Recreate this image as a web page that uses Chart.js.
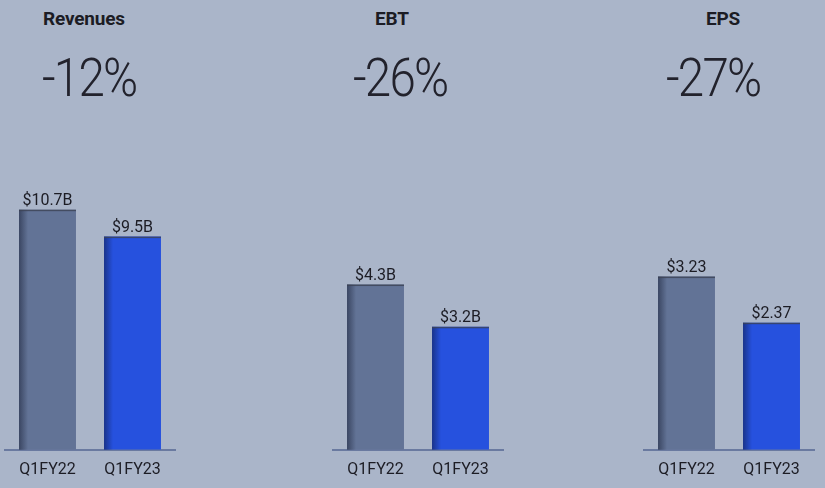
<!DOCTYPE html>
<html lang="en">
<head>
  <meta charset="UTF-8">
  <title>Q1 FY23 vs Q1 FY22</title>
  <script src="https://cdn.jsdelivr.net/npm/chart.js"></script>
  <style>
    body {
      margin: 0;
      width: 825px;
      height: 488px;
      background: #aab5c9;
      font-family: 'Roboto', 'Noto Sans', sans-serif;
      color: #1c1c24;
      position: relative;
      overflow: hidden;
    }

    .title {
      position: absolute;
      font-size: 19px;
      font-weight: 700;
      line-height: 1;
      letter-spacing: -0.2px;
    }

    .change {
      position: absolute;
      font-size: 54px;
      font-weight: 300;
      line-height: 1;
      letter-spacing: -2px;
      color: #22222c;
      transform: scaleX(0.88);
      transform-origin: left top;
    }

    .panel {
      position: absolute;
      top: 140px;
      width: 184px;
      height: 351px;
    }
  </style>
</head>
<body>

  <div class="title" style="left:43px; top:9px;">Revenues</div>
  <div class="change" style="left:42px; top:51px;">-12%</div>
  <div class="panel" style="left:0px;"><canvas id="chart0"></canvas></div>

  <div class="title" style="left:375px; top:9px;">EBT</div>
  <div class="change" style="left:353px; top:51px;">-26%</div>
  <div class="panel" style="left:328px;"><canvas id="chart1"></canvas></div>

  <div class="title" style="left:706px; top:9px;">EPS</div>
  <div class="change" style="left:666px; top:51px;">-27%</div>
  <div class="panel" style="left:639px;"><canvas id="chart2"></canvas></div>

  <script>
    // periods compared in every panel
    const periods = ['Q1FY22', 'Q1FY23'];

    // one array per metric
    const revenues = [10.7, 9.5];
    const ebt = [4.3, 3.2];
    const eps = [3.23, 2.37];

    const revenueLabels = ['$10.7B', '$9.5B'];
    const ebtLabels = ['$4.3B', '$3.2B'];
    const epsLabels = ['$3.23', '$2.37'];

    // each panel has its own vertical scale
    const yMax = [13.36, 7.8, 5.59];

    const barColors = ['#627396', '#2651de'];

    // value text above each bar + the darker left/top edge on bars
    const barDecor = {
      id: 'barDecor',
      afterDatasetsDraw(chart, args, opts) {
        const ctx = chart.ctx;
        const meta = chart.getDatasetMeta(0);
        meta.data.forEach((bar, i) => {
          const left = bar.x - bar.width / 2;
          const h = bar.base - bar.y;

          const g = ctx.createLinearGradient(left, 0, left + 9, 0);
          g.addColorStop(0, 'rgba(10,15,35,0.45)');
          g.addColorStop(1, 'rgba(10,15,35,0)');
          ctx.save();
          ctx.fillStyle = g;
          ctx.fillRect(left, bar.y, 9, h);
          ctx.fillStyle = 'rgba(60,66,84,0.8)';
          ctx.fillRect(left, bar.y, bar.width, 1.5);

          ctx.font = '16px Roboto, "Noto Sans", sans-serif';
          ctx.fillStyle = '#1c1c24';
          ctx.textAlign = 'center';
          ctx.textBaseline = 'alphabetic';
          ctx.fillText(opts.labels[i], bar.x, bar.y - 5);
          ctx.restore();
        });
      }
    };

    function drawPanel(id, values, labels, max) {
      const ctx = document.getElementById(id).getContext('2d');
      new Chart(ctx, {
        type: 'bar',
        data: {
          labels: periods,
          datasets: [{
            data: values,
            backgroundColor: barColors,
            borderWidth: 0,
            barPercentage: 0.67,
            categoryPercentage: 1
          }]
        },
        options: {
          responsive: true,
          maintainAspectRatio: false,
          animation: false,
          events: [],
          layout: { padding: { left: 5, right: 9, top: 10, bottom: 0 } },
          plugins: {
            legend: { display: false },
            tooltip: { enabled: false },
            barDecor: { labels }
          },
          scales: {
            y: { display: false, min: 0, max: max },
            x: {
              grid: { display: false, drawTicks: false },
              border: { display: true, color: '#6a7aa0', width: 2 },
              ticks: {
                color: '#1c1c24',
                padding: 11,
                font: { size: 16, family: 'Roboto' }
              }
            }
          }
        },
        plugins: [barDecor]
      });
    }

    drawPanel('chart0', revenues, revenueLabels, yMax[0]);
    drawPanel('chart1', ebt, ebtLabels, yMax[1]);
    drawPanel('chart2', eps, epsLabels, yMax[2]);
  </script>

</body>
</html>
